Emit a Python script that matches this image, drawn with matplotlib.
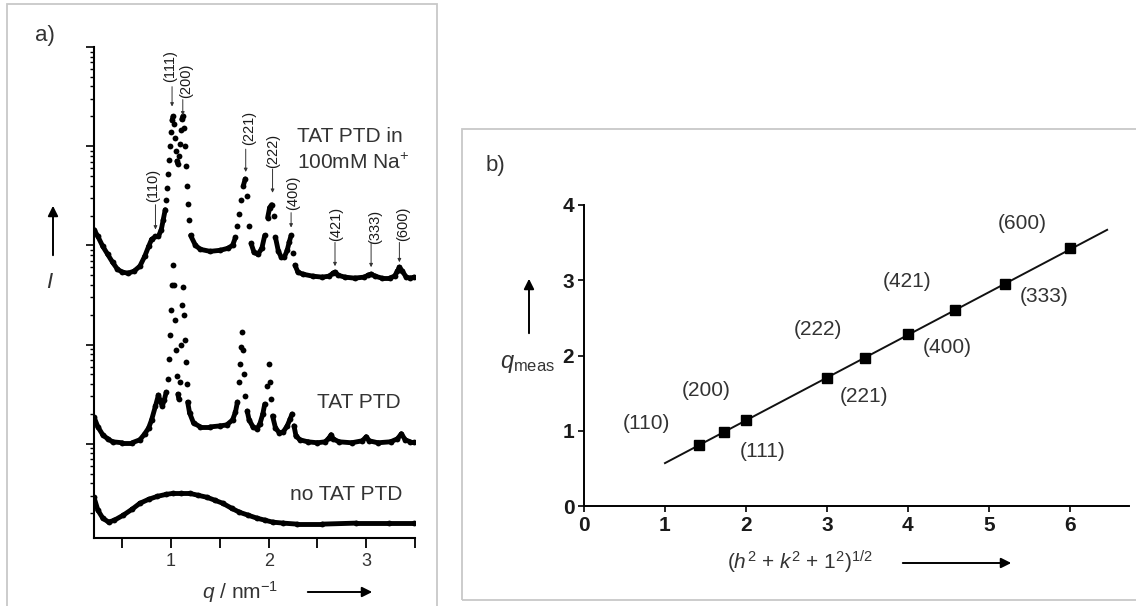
import numpy as np
import matplotlib
matplotlib.use("Agg")
import matplotlib.pyplot as plt
from matplotlib.patches import Rectangle, FancyArrowPatch
from matplotlib.collections import LineCollection
from matplotlib.ticker import FixedLocator, NullFormatter, LogLocator

# ---- panel a: SAXS profiles, q in nm^-1, log10(I) (curves are stacked) ----
q_top = [0.21, 0.25, 0.30, 0.35, 0.40, 0.45, 0.50, 0.56, 0.62, 0.68, 0.73, 0.77, 0.80, 0.84,
         0.87, 0.90, 0.92, 0.94, 0.95, 0.96, 0.97, 0.98, 0.99, 1.00, 1.01, 1.02, 1.03, 1.04,
         1.05, 1.06, 1.07, 1.08, 1.09, 1.10, 1.11, 1.12, 1.13, 1.14, 1.15, 1.16, 1.17, 1.18,
         1.20, 1.25, 1.30, 1.40, 1.50, 1.58, 1.63, 1.66, 1.68, 1.70, 1.72, 1.74, 1.76, 1.78,
         1.80, 1.82, 1.85, 1.89, 1.93, 1.96, 1.99, 2.01, 2.03, 2.05, 2.07, 2.10, 2.13, 2.16,
         2.19, 2.21, 2.23, 2.25, 2.27, 2.30, 2.35, 2.45, 2.55, 2.62, 2.66, 2.68, 2.71, 2.78,
         2.88, 2.98, 3.02, 3.05, 3.09, 3.16, 3.24, 3.29, 3.32, 3.34, 3.37, 3.41, 3.45, 3.49]
logI_top = [3.16, 3.09, 2.99, 2.91, 2.83, 2.76, 2.73, 2.72, 2.74, 2.79, 2.89, 2.99, 3.06, 3.09,
            3.09, 3.16, 3.26, 3.36, 3.46, 3.58, 3.72, 3.86, 4.00, 4.14, 4.26, 4.30, 4.22, 4.08,
            3.95, 3.85, 3.82, 3.90, 4.02, 4.16, 4.27, 4.30, 4.18, 4.00, 3.80, 3.60, 3.42, 3.26,
            3.10, 3.00, 2.96, 2.94, 2.95, 2.97, 3.00, 3.08, 3.20, 3.32, 3.46, 3.60, 3.67, 3.50,
            3.20, 3.02, 2.93, 2.91, 2.97, 3.10, 3.28, 3.38, 3.41, 3.30, 3.08, 2.94, 2.88, 2.88,
            2.95, 3.03, 3.10, 2.92, 2.80, 2.73, 2.71, 2.69, 2.68, 2.69, 2.72, 2.73, 2.70, 2.68,
            2.67, 2.68, 2.70, 2.71, 2.69, 2.67, 2.67, 2.69, 2.74, 2.78, 2.74, 2.68, 2.67, 2.68]

q_mid = [0.21, 0.25, 0.30, 0.35, 0.40, 0.50, 0.60, 0.68, 0.73, 0.77, 0.80, 0.84, 0.87, 0.89,
         0.91, 0.93, 0.95, 0.97, 0.98, 0.99, 1.00, 1.01, 1.02, 1.03, 1.04, 1.05, 1.06, 1.07,
         1.08, 1.09, 1.10, 1.11, 1.12, 1.13, 1.14, 1.15, 1.16, 1.17, 1.19, 1.23, 1.30, 1.40,
         1.50, 1.57, 1.63, 1.66, 1.68, 1.70, 1.71, 1.72, 1.73, 1.74, 1.75, 1.76, 1.78, 1.80,
         1.84, 1.88, 1.91, 1.94, 1.96, 1.98, 2.00, 2.01, 2.02, 2.04, 2.07, 2.11, 2.15, 2.19,
         2.22, 2.24, 2.26, 2.28, 2.32, 2.40, 2.50, 2.58, 2.62, 2.64, 2.66, 2.72, 2.85, 2.96,
         3.00, 3.03, 3.12, 3.25, 3.32, 3.36, 3.40, 3.45, 3.49]
logI_mid = [1.27, 1.17, 1.09, 1.05, 1.02, 1.01, 1.01, 1.04, 1.10, 1.16, 1.24, 1.38, 1.49, 1.43,
            1.38, 1.44, 1.52, 1.65, 1.85, 2.10, 2.35, 2.60, 2.80, 2.60, 2.25, 1.95, 1.68, 1.50,
            1.45, 1.62, 2.00, 2.40, 2.58, 2.30, 2.05, 1.82, 1.60, 1.42, 1.31, 1.21, 1.17, 1.17,
            1.18, 1.19, 1.24, 1.32, 1.42, 1.62, 1.80, 1.98, 2.13, 1.95, 1.70, 1.48, 1.33, 1.24,
            1.17, 1.15, 1.20, 1.30, 1.40, 1.58, 1.80, 1.62, 1.45, 1.28, 1.16, 1.11, 1.12, 1.18,
            1.25, 1.30, 1.18, 1.08, 1.04, 1.02, 1.01, 1.02, 1.06, 1.09, 1.05, 1.02, 1.01, 1.03,
            1.07, 1.03, 1.01, 1.02, 1.05, 1.10, 1.04, 1.02, 1.02]

q_low = [0.21, 0.25, 0.30, 0.36, 0.42, 0.51, 0.60, 0.68, 0.77, 0.86, 0.95, 1.02, 1.10, 1.19,
         1.28, 1.37, 1.45, 1.53, 1.62, 1.70, 1.79, 1.88, 1.96, 2.04, 2.15, 2.29, 2.55, 2.90,
         3.23, 3.49]
logI_low = [0.46, 0.33, 0.25, 0.21, 0.23, 0.28, 0.34, 0.40, 0.44, 0.47, 0.49, 0.50, 0.50, 0.50,
            0.48, 0.46, 0.43, 0.40, 0.35, 0.31, 0.28, 0.25, 0.23, 0.21, 0.20, 0.19, 0.19, 0.20,
            0.20, 0.20]

peak_labels = ["(110)", "(111)", "(200)", "(221)", "(222)", "(400)", "(421)", "(333)", "(600)"]
peak_q = [0.84, 1.01, 1.12, 1.765, 2.04, 2.23, 2.68, 3.05, 3.34]

# ---- panel b: indexing of the peaks ----
hkl_labels = ["(110)", "(111)", "(200)", "(221)", "(222)", "(400)", "(421)", "(333)", "(600)"]
hkl_root = [1.414, 1.732, 2.0, 3.0, 3.464, 4.0, 4.583, 5.196, 6.0]
q_meas = [0.81, 0.98, 1.14, 1.70, 1.97, 2.28, 2.60, 2.95, 3.43]
fit_x = [1.0, 6.46]
fit_y = [0.57, 3.67]

W, H = 1136, 606
TXT = "#333333"

plt.rcParams["font.family"] = ["Liberation Sans", "DejaVu Sans"]
plt.rcParams["mathtext.fontset"] = "custom"
plt.rcParams["mathtext.rm"] = "Liberation Sans"
plt.rcParams["mathtext.it"] = "Liberation Sans:italic"
plt.rcParams["mathtext.bf"] = "Liberation Sans:bold"


def fxy(x, y):
    # image pixel (top-left origin) -> figure fraction
    return (x / W, 1 - y / H)


def big_arrow(fig, x0, y0, x1, y1):
    fig.add_artist(FancyArrowPatch(fxy(x0, y0), fxy(x1, y1), transform=fig.transFigure,
                                   arrowstyle="-|>", mutation_scale=15, lw=1.4, color="black"))


def draw_profile(ax, q, lg, steep=5.5):
    # dots everywhere; joined where the curve is shallow, left dotted on the steep peak flanks
    q = np.asarray(q)
    lg = np.asarray(lg)
    inten = 10 ** lg
    slope = np.abs(np.diff(lg)) / np.diff(q)
    segs = [[(q[i], inten[i]), (q[i + 1], inten[i + 1])]
            for i in range(len(q) - 1) if slope[i] < steep]
    ax.add_collection(LineCollection(segs, colors="black", linewidths=3.5, capstyle="round"))
    ax.plot(q, inten, "o", color="black", ms=4.2, mec="none")


fig = plt.figure(figsize=(W / 100, H / 100), dpi=100)

# frames around the two panels
fig.add_artist(Rectangle(fxy(7, 640), 430 / W, 636 / H, transform=fig.transFigure,
                         fill=False, ec="#c8c8c8", lw=1.3))
fig.add_artist(Rectangle(fxy(462, 600), 700 / W, 471 / H, transform=fig.transFigure,
                         fill=False, ec="#c8c8c8", lw=1.3))

# ================= panel a =================
ax = fig.add_axes([94 / W, (H - 538) / H, 321 / W, 491 / H])
ax.set_yscale("log")
for q, lg in [(q_top, logI_top), (q_mid, logI_mid), (q_low, logI_low)]:
    draw_profile(ax, q, lg)

ax.set_xlim(0.21, 3.5)
ax.set_ylim(10 ** 0.05, 10 ** 5.0)
ax.yaxis.set_major_locator(LogLocator(base=10, numticks=12))
ax.yaxis.set_minor_locator(LogLocator(base=10, subs=np.arange(2, 10), numticks=12))
ax.yaxis.set_major_formatter(NullFormatter())
ax.yaxis.set_minor_formatter(NullFormatter())
ax.xaxis.set_major_locator(FixedLocator([1, 2, 3]))
ax.xaxis.set_minor_locator(FixedLocator([0.5, 1.5, 2.5, 3.5]))
ax.tick_params(axis="x", which="both", direction="out", length=7, width=1.3,
               labelsize=13, pad=4, colors="black", labelcolor=TXT)
ax.tick_params(axis="y", which="major", direction="out", length=6, width=1.2)
ax.tick_params(axis="y", which="minor", direction="out", length=3, width=1.0)
ax.spines[["top", "right"]].set_visible(False)
for s in ["left", "bottom"]:
    ax.spines[s].set_linewidth(1.5)

# hkl markers on the top curve (text position, arrow start/end in log10 I)
lab_q = [0.82, 0.99, 1.15, 1.80, 2.05, 2.255, 2.69, 3.09, 3.38]
lab_lg = [3.60, 4.81, 4.66, 4.18, 3.95, 3.53, 3.22, 3.19, 3.22]
arr_lg = [(3.41, 3.16), (4.60, 4.40), (4.47, 4.31), (3.97, 3.74), (3.77, 3.53),
          (3.33, 3.18), (3.03, 2.79), (3.03, 2.78), (3.03, 2.83)]
for lab, q, lq, llg, (a0, a1) in zip(peak_labels, peak_q, lab_q, lab_lg, arr_lg):
    ax.text(lq, 10 ** llg, lab, rotation=90, ha="center", va="center", fontsize=10.5,
            color="#1a1a1a")
    ax.annotate("", xy=(q, 10 ** a1), xytext=(q, 10 ** a0),
                arrowprops=dict(arrowstyle="-|>", lw=0.7, color="#333333",
                                mutation_scale=5, shrinkA=0, shrinkB=0))

fig.text(*fxy(297, 136), "TAT PTD in", fontsize=15, color=TXT, ha="left", va="center")
fig.text(*fxy(297, 163), r"100mM Na$^{+}$", fontsize=15, color=TXT, ha="left", va="center")
fig.text(*fxy(317, 402), "TAT PTD", fontsize=15, color=TXT, ha="left", va="center")
fig.text(*fxy(290, 495), "no TAT PTD", fontsize=15, color=TXT, ha="left", va="center")
fig.text(*fxy(45, 35), "a)", fontsize=16, color=TXT, ha="center", va="center")
fig.text(*fxy(50, 282), r"$I$", fontsize=16, color=TXT, ha="center", va="center")
big_arrow(fig, 53, 258, 53, 203)
fig.text(*fxy(240, 592), r"$q$ / nm$^{-1}$", fontsize=15, color=TXT, ha="center", va="center")
big_arrow(fig, 305, 592, 375, 592)

# ================= panel b =================
bx = fig.add_axes([584 / W, (H - 506) / H, 545 / W, 301 / H])
bx.plot(fit_x, fit_y, color="#111111", lw=1.4)
bx.plot(hkl_root, q_meas, "s", color="black", ms=7.5)
bx.set_xlim(0, 6.73)
bx.set_ylim(0, 4)
bx.set_xticks([0, 1, 2, 3, 4, 5, 6])
bx.set_yticks([0, 1, 2, 3, 4])
bx.tick_params(direction="out", length=4, width=1.2, labelsize=15, pad=3,
               labelcolor="#1a1a1a")
for t in bx.get_xticklabels() + bx.get_yticklabels():
    t.set_fontweight("bold")
bx.spines[["top", "right"]].set_visible(False)
for s in ["left", "bottom"]:
    bx.spines[s].set_linewidth(1.4)

b_lab_pos = [(0.77, 1.10), (2.20, 0.72), (1.51, 1.54), (3.46, 1.46), (2.89, 2.34),
             (4.49, 2.10), (3.99, 2.98), (5.68, 2.78), (5.41, 3.76)]
for lab, (tx, ty) in zip(hkl_labels, b_lab_pos):
    bx.text(tx, ty, lab, ha="center", va="center", fontsize=15, color=TXT, clip_on=False)

fig.text(*fxy(495, 166), "b)", fontsize=16, color=TXT, ha="center", va="center")
fig.text(*fxy(527, 364), r"$q_{\mathrm{meas}}$", fontsize=17, color=TXT,
         ha="center", va="center")
big_arrow(fig, 529, 336, 529, 276)
fig.text(*fxy(800, 562), r"$(h^2$ + $k^2$ + $\mathit{1}^2)^{1/2}$", fontsize=15, color=TXT,
         ha="center", va="center")
big_arrow(fig, 900, 563, 1014, 563)

fig.savefig("out.png", dpi=100, facecolor="white")
